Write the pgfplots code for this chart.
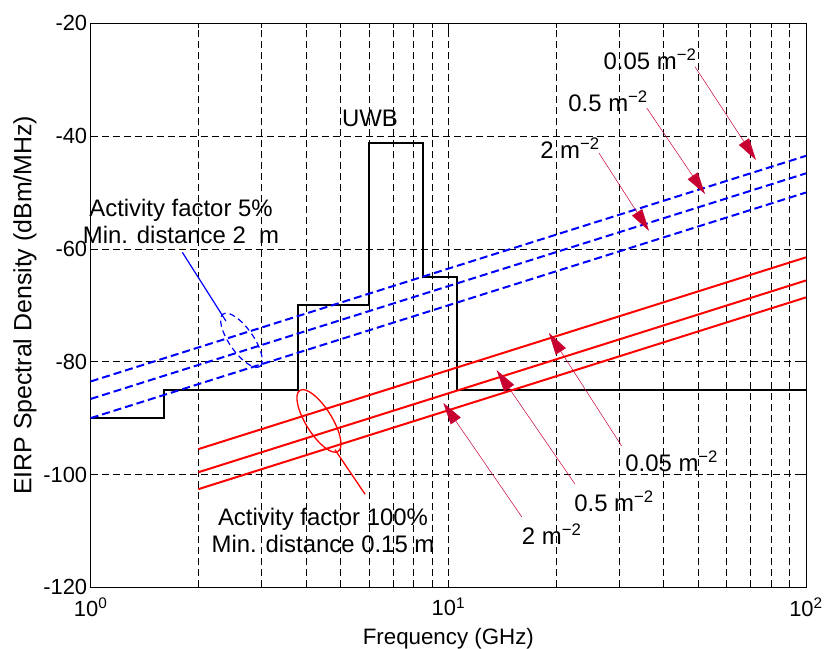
\documentclass[border=0pt]{standalone}
\usepackage{fontspec}
\setmainfont{Liberation Sans}
\usepackage{pgfplots}
\pgfplotsset{compat=1.18}
\usetikzlibrary{arrows.meta,shapes.geometric}
\definecolor{arr}{RGB}{200,0,50}

\begin{document}
\begin{tikzpicture}
\begin{axis}[name=ax, xmode=log, scale only axis, width=715.3bp, height=564bp,
  xmin=1, xmax=100, ymin=-120, ymax=-20,
  xtick={1,10,100},
  xticklabels={10\textsuperscript{0},10\textsuperscript{1},10\textsuperscript{2}},
  minor xtick={2,3,4,5,6,7,8,9,20,30,40,50,60,70,80,90},
  ytick={-120,-100,-80,-60,-40,-20},
  yticklabels={-120,-100,-80,-60,-40,-20},
  xmajorgrids, xminorgrids, ymajorgrids,
  major grid style={black, line width=0.6bp, dash pattern=on 7bp off 4bp},
  minor grid style={black, line width=0.6bp, dash pattern=on 7bp off 4bp},
  axis line style={black, line width=1bp},
  tick style={black, line width=0.7bp},
  major tick length=7bp, minor tick length=5bp,
  tick label style={font=\fontsize{22}{26}\selectfont},
  xticklabel style={yshift=-7bp},
  xlabel={Frequency (GHz)},
  ylabel={EIRP Spectral Density (dBm/MHz)},
  xlabel style={font=\fontsize{22.4}{26}\selectfont, yshift=-5bp},
  ylabel style={font=\fontsize{25}{28}\selectfont},
  clip=false,
]
% UWB mask
\addplot[black, line width=2bp] coordinates {
  (1,-90) (1.6,-90) (1.6,-85) (3.8,-85) (3.8,-70) (6,-70) (6,-41.3)
  (8.5,-41.3) (8.5,-65) (10.6,-65) (10.6,-85) (100,-85)};
% blue dashed (activity factor 5%)
\addplot[blue, line width=2bp, dash pattern=on 8bp off 4bp] coordinates {(1,-83.5) (100,-43.5)};
\addplot[blue, line width=2bp, dash pattern=on 8bp off 4bp] coordinates {(1,-86.6) (100,-46.6)};
\addplot[blue, line width=2bp, dash pattern=on 8bp off 4bp] coordinates {(1,-90) (100,-50)};
% red solid (activity factor 100%)
\addplot[red, line width=2bp] coordinates {(2,-95.5) (100,-61.5)};
\addplot[red, line width=2bp] coordinates {(2,-99.6) (100,-65.6)};
\addplot[red, line width=2bp] coordinates {(2,-102.6) (100,-68.6)};

% annotations
\node[font=\fontsize{24}{27}\selectfont] at (axis cs:6.04,-36.8) {UWB};
\node[align=center, font=\fontsize{24}{27.3}\selectfont, inner sep=0pt] at (axis cs:1.789,-55.2)
  {Activity factor 5\%\\Min. distance 2\ \ m};
\draw[blue, line width=1.2bp] (axis cs:1.804,-60.6) -- (axis cs:2.389,-72.8);
\node[draw=blue, line width=1.2bp, dash pattern=on 6bp off 4bp, ellipse, minimum width=64bp,
  minimum height=24bp, inner sep=0pt, rotate=-55] at (axis cs:2.64,-76.2) {};

\node[draw=red, line width=1.3bp, ellipse, minimum width=72bp, minimum height=26bp,
  inner sep=0pt, rotate=-58] at (axis cs:4.347,-90.5) {};
\draw[red, line width=1.3bp] (axis cs:4.82,-95.6) -- (axis cs:5.85,-103.5);
\node[align=center, font=\fontsize{24}{27.3}\selectfont, inner sep=0pt] at (axis cs:4.462,-109.9)
  {Activity factor 100\%\\Min. distance 0.15 m};

\begin{scope}[font=\fontsize{24}{27}\selectfont]
\node at (axis cs:36.64,-26.3) {0.05 m\textsuperscript{−2}};
\node at (axis cs:27.97,-33.8) {0.5 m\textsuperscript{−2}};
\node at (axis cs:21.89,-42.1) {2 m\textsuperscript{−2}};
\node at (axis cs:42.12,-97.6) {0.05 m\textsuperscript{−2}};
\node at (axis cs:29.06,-104.7) {0.5 m\textsuperscript{−2}};
\node at (axis cs:19.45,-110.6) {2 m\textsuperscript{−2}};
\end{scope}
\begin{scope}[arr, line width=0.5bp, -{Triangle[length=22bp,width=12bp]}]
\draw (axis cs:48.93,-27.7) -- (axis cs:72.47,-44.24);
\draw (axis cs:35.86,-35.0) -- (axis cs:52.2,-50.27);
\draw (axis cs:26.37,-43.0) -- (axis cs:36.39,-56.8);
\draw (axis cs:30.52,-94.95) -- (axis cs:19.11,-74.9);
\draw (axis cs:22.60,-101.7) -- (axis cs:13.65,-81.5);
\draw (axis cs:16.04,-107.5) -- (axis cs:9.68,-87.3);
\end{scope}
\end{axis}
\pgfresetboundingbox
\path[use as bounding box] (ax.south west) ++(-90.7bp,-61.7bp) rectangle ++(824bp,649bp);
\end{tikzpicture}
\end{document}
